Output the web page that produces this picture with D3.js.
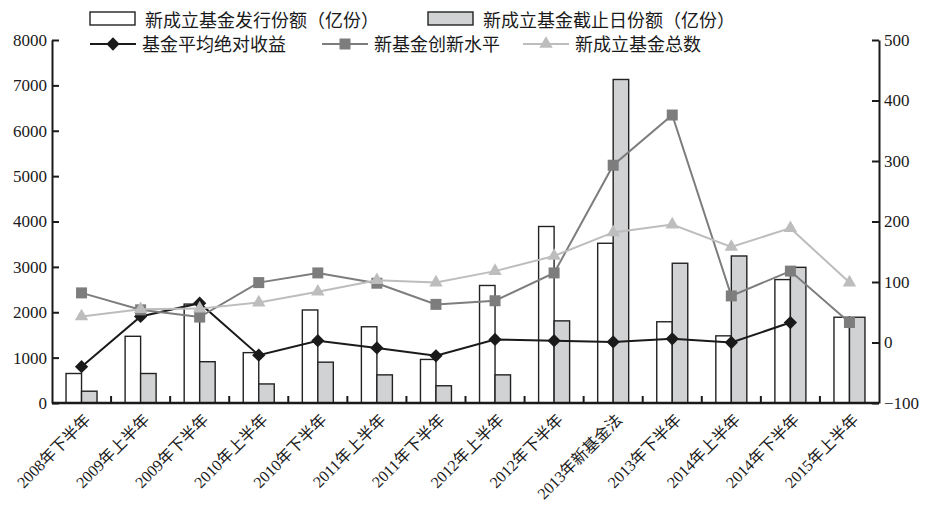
<!DOCTYPE html>
<html>
<head>
<meta charset="utf-8">
<script src="https://cdn.jsdelivr.net/npm/d3@7"></script>
<style>
  body { margin: 0; background: #fff; }
  svg { display: block; font-family: "Liberation Serif", "Noto Sans CJK SC", serif; }
</style>
</head>
<body>
<div id="chart"></div>
<script>
'use strict';

const categories = ['2008年下半年', '2009年上半年', '2009年下半年', '2010年上半年', '2010年下半年',
  '2011年上半年', '2011年下半年', '2012年上半年', '2012年下半年', '2013年新基金法',
  '2013年下半年', '2014年上半年', '2014年下半年', '2015年上半年'];

// left axis, 亿份
const issueShares = [650, 1470, 2180, 1110, 2050, 1680, 960, 2590, 3890, 3520, 1790, 1480, 2720, 1890];
const endShares = [260, 650, 910, 420, 900, 620, 380, 620, 1810, 7130, 3080, 3240, 2990, 1890];

// right axis
const avgReturn = [-40, 43, 65, -21, 3, -9, -22, 5, 3, 1, 6, 0, 33, null];
const innovation = [82, 54, 42, 99, 115, 98, 63, 69, 115, 293, 376, 77, 118, 33];
const fundCount = [43, 55, 56, 66, 84, 103, 99, 118, 143, 182, 195, 158, 189, 99];

const leftTicks = [0, 1000, 2000, 3000, 4000, 5000, 6000, 7000, 8000];
const rightTicks = [-100, 0, 100, 200, 300, 400, 500];

const W = 925, H = 506;
const m = { left: 52, right: 879, top: 40, bottom: 403 };

const svg = d3.select('#chart').append('svg')
  .attr('width', W).attr('height', H);

const x = d3.scaleBand().domain(categories).range([m.left, m.right]);
const bw = x.bandwidth();
const xSub = d3.scaleBand().domain(['issue', 'end'])
  .range([bw / 2 - 15.5, bw / 2 + 15.5]);
const yL = d3.scaleLinear().domain([0, 8000]).range([m.bottom, m.top]);
const yR = d3.scaleLinear().domain([-100, 500]).range([m.bottom, m.top]);
const cx = (d) => x(d) + bw / 2;

// bars
const barData = categories.map((c, i) => ({ c, issue: issueShares[i], end: endShares[i] }));
const barG = svg.append('g');
const barStyle = { issue: '#ffffff', end: '#d1d2d4' };
['issue', 'end'].forEach((k) => {
  barG.selectAll('.bar-' + k)
    .data(barData)
    .enter()
    .append('rect')
    .attr('x', (d) => x(d.c) + xSub(k))
    .attr('y', (d) => yL(d[k]))
    .attr('width', xSub.bandwidth())
    .attr('height', (d) => yL(0) - yL(d[k]))
    .attr('fill', barStyle[k])
    .attr('stroke', '#222')
    .attr('stroke-width', 1.4);
});

// axes
const fmt = d3.format('d');
const leftAxis = svg.append('g')
  .attr('transform', 'translate(' + m.left + ',0)')
  .call(d3.axisLeft(yL).tickValues(leftTicks).tickFormat(fmt)
    .tickSizeInner(-7).tickSizeOuter(0).tickPadding(5));
const rightAxis = svg.append('g')
  .attr('transform', 'translate(' + m.right + ',0)')
  .call(d3.axisRight(yR).tickValues(rightTicks).tickFormat(fmt)
    .tickSizeInner(-7).tickSizeOuter(0).tickPadding(5));
[leftAxis, rightAxis].forEach((a) => {
  a.attr('font-family', null).attr('font-size', null);
  a.select('.domain').attr('stroke', '#1a1a1a').attr('stroke-width', 2);
  a.selectAll('.tick line').attr('stroke', '#1a1a1a').attr('stroke-width', 2);
  a.selectAll('.tick text')
    .attr('fill', '#1a1a1a')
    .style('font-family', '"Liberation Serif", serif')
    .style('font-size', '17px');
});

// x axis line and boundary ticks
svg.append('line')
  .attr('x1', m.left).attr('x2', m.right)
  .attr('y1', m.bottom).attr('y2', m.bottom)
  .attr('stroke', '#1a1a1a').attr('stroke-width', 2.5);
svg.append('g').selectAll('line')
  .data(categories.slice(1))
  .enter()
  .append('line')
  .attr('x1', (d) => x(d)).attr('x2', (d) => x(d))
  .attr('y1', m.bottom).attr('y2', m.bottom - 7)
  .attr('stroke', '#1a1a1a').attr('stroke-width', 2);

svg.append('g').selectAll('text')
  .data(categories)
  .enter()
  .append('text')
  .attr('transform', (d) => 'translate(' + (cx(d) + 10) + ',' + (m.bottom + 18) + ') rotate(-45)')
  .attr('text-anchor', 'end')
  .attr('fill', '#1a1a1a')
  .style('font-size', '16px')
  .text((d) => d);

// lines
const seriesList = [
  { name: '基金平均绝对收益', values: avgReturn, color: '#1a1a1a', mark: '#1a1a1a', shape: 'diamond' },
  { name: '新基金创新水平', values: innovation, color: '#7d7d7d', mark: '#7d7d7d', shape: 'square' },
  { name: '新成立基金总数', values: fundCount, color: '#bdbdbd', mark: '#bdbdbd', shape: 'triangle' },
];

const symbolPath = {
  diamond: d3.symbol().type(d3.symbolSquare).size(88)(),
  square: d3.symbol().type(d3.symbolSquare).size(121)(),
  triangle: d3.symbol().type(d3.symbolTriangle).size(78)(),
};
const symbolRot = { diamond: 45, square: 0, triangle: 0 };

const line = d3.line()
  .defined((d) => d.v != null)
  .x((d) => cx(d.c))
  .y((d) => yR(d.v));

seriesList.forEach((s) => {
  const pts = categories.map((c, i) => ({ c, v: s.values[i] }));
  svg.append('path')
    .datum(pts)
    .attr('fill', 'none')
    .attr('stroke', s.color)
    .attr('stroke-width', 2)
    .attr('d', line);
  svg.append('g').selectAll('path')
    .data(pts.filter((d) => d.v != null))
    .enter()
    .append('path')
    .attr('d', symbolPath[s.shape])
    .attr('transform', (d) => 'translate(' + cx(d.c) + ',' + yR(d.v) + ') rotate(' + symbolRot[s.shape] + ')')
    .attr('fill', s.mark);
});

// legend
const legend = svg.append('g').style('font-size', '18px').attr('fill', '#1a1a1a');
const boxes = [
  { label: '新成立基金发行份额（亿份）', fill: '#ffffff', x: 90 },
  { label: '新成立基金截止日份额（亿份）', fill: '#d1d2d4', x: 428 },
];
boxes.forEach((b) => {
  legend.append('rect')
    .attr('x', b.x).attr('y', 12).attr('width', 45).attr('height', 13)
    .attr('fill', b.fill).attr('stroke', '#222').attr('stroke-width', 1.4);
  legend.append('text').attr('x', b.x + 55).attr('y', 26.5).text(b.label);
});
const lineKeys = [90, 322, 523];
seriesList.forEach((s, i) => {
  const lx = lineKeys[i];
  legend.append('line')
    .attr('x1', lx).attr('x2', lx + 46)
    .attr('y1', 44).attr('y2', 44)
    .attr('stroke', s.color).attr('stroke-width', 2);
  legend.append('path')
    .attr('d', symbolPath[s.shape])
    .attr('transform', 'translate(' + (lx + 23) + ',44) rotate(' + symbolRot[s.shape] + ')')
    .attr('fill', s.mark);
  legend.append('text').attr('x', lx + 52).attr('y', 51).text(s.name);
});
</script>
</body>
</html>
